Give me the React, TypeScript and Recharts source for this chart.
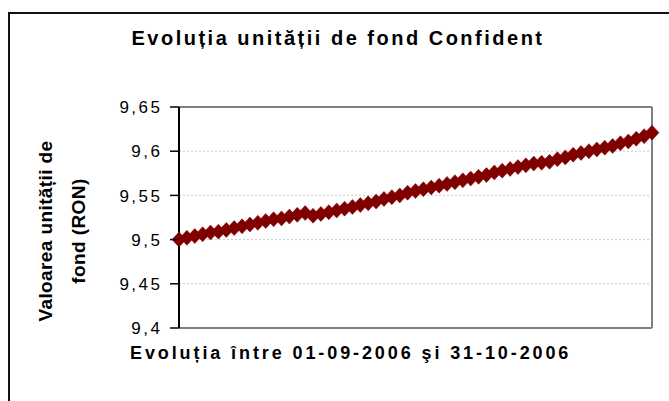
import React from "react";
import { LineChart, Line, XAxis, YAxis, CartesianGrid, ReferenceLine } from "recharts";

// valoarea unitatii de fond, zilnic, 01-09-2006 .. 31-10-2006 (61 zile)
const unitValues = [
  9.5, 9.502, 9.504, 9.506, 9.508, 9.509, 9.511, 9.513, 9.515, 9.517,
  9.519, 9.521, 9.523, 9.524, 9.526, 9.528, 9.53, 9.527, 9.529, 9.531,
  9.533, 9.535, 9.537, 9.539, 9.541, 9.543, 9.546, 9.548, 9.55, 9.553,
  9.555, 9.557, 9.559, 9.561, 9.563, 9.565, 9.567, 9.569, 9.571, 9.573,
  9.576, 9.578, 9.58, 9.582, 9.584, 9.586, 9.587, 9.588, 9.591, 9.593,
  9.596, 9.598, 9.6, 9.602, 9.604, 9.606, 9.609, 9.611, 9.614, 9.617,
  9.621,
];
const yTicks = [9.4, 9.45, 9.5, 9.55, 9.6, 9.65];

const chartData = unitValues.map((v, i) => ({ day: i + 1, value: v }));

const FONT = '"Liberation Sans", Arial, sans-serif';
const RED = "#800000";
const TICK_MARGIN = 10;
const TICK_SIZE = 9;

const Diamond = (props: any) => {
  const { cx, cy, index } = props;
  if (cx == null || cy == null) return <g key={index} />;
  const rx = 7;
  const ry = 7.5;
  return (
    <polygon
      key={index}
      points={`${cx},${cy - ry} ${cx + rx},${cy} ${cx},${cy + ry} ${cx - rx},${cy}`}
      fill={RED}
      stroke={RED}
      strokeWidth={0.5}
    />
  );
};

// eticheta + liniuta de diviziune; x vine chiar pe axa (tickSize/tickMargin = 0)
const YTick = (props: any) => {
  const { x, y, payload } = props;
  const label = String(payload.value).replace(".", ",");
  return (
    <g>
      <line x1={x - TICK_SIZE} x2={x} y1={y} y2={y} stroke="#000" strokeWidth={1.5} />
      <text
        x={x - TICK_SIZE - TICK_MARGIN + 2.5}
        y={y}
        dy="0.36em"
        textAnchor="end"
        fill="#000"
        fontSize={17}
        fontFamily={FONT}
        letterSpacing={2.5}
      >
        {label}
      </text>
    </g>
  );
};

export default function App() {
  return (
    <div
      style={{
        position: "absolute",
        left: 0,
        top: 0,
        width: 669,
        height: 401,
        overflow: "hidden",
        background: "#fff",
        fontFamily: FONT,
      }}
    >
      <div
        style={{
          position: "absolute",
          left: 8,
          top: 12,
          width: 700,
          height: 430,
          border: "2px solid #111",
          boxSizing: "border-box",
        }}
      />
      <div
        style={{
          position: "absolute",
          left: 0,
          top: 27,
          width: 676,
          textAlign: "center",
          fontSize: 20,
          fontWeight: "bold",
          letterSpacing: 2.5,
          color: "#000",
        }}
      >
        Evoluția unității de fond Confident
      </div>
      <div
        style={{
          position: "absolute",
          left: -58,
          top: 198,
          width: 240,
          height: 66,
          lineHeight: "33px",
          transform: "rotate(-90deg)",
          textAlign: "center",
          fontSize: 19,
          fontWeight: "bold",
          letterSpacing: 0.4,
          color: "#000",
        }}
      >
        Valoarea unității de
        <br />
        fond (RON)
      </div>
      <div
        style={{
          position: "absolute",
          left: 130,
          top: 343,
          fontSize: 18,
          fontWeight: "bold",
          letterSpacing: 2.9,
          color: "#000",
          whiteSpace: "nowrap",
        }}
      >
        Evoluția între 01-09-2006 şi 31-10-2006
      </div>
      <div style={{ position: "absolute", left: 0, top: 0 }}>
        <LineChart
          width={669}
          height={401}
          data={chartData}
          margin={{ top: 107, right: 17, bottom: 72, left: 0 }}
        >
          <CartesianGrid
            vertical={false}
            stroke="#c8c8c8"
            strokeDasharray="2 2"
          />
          <XAxis
            dataKey="day"
            type="category"
            height={1}
            tick={false}
            tickLine={false}
            axisLine={{ stroke: "#808080", strokeWidth: 2 }}
          />
          <YAxis
            domain={[9.4, 9.65]}
            ticks={yTicks}
            width={179}
            interval={0}
            tickSize={0}
            tickMargin={0}
            tickLine={false}
            tick={YTick}
            axisLine={{ stroke: "#000", strokeWidth: 2 }}
          />
          <ReferenceLine y={9.65} stroke="#808080" strokeWidth={2} />
          <ReferenceLine x={chartData[chartData.length - 1].day} stroke="#808080" strokeWidth={2} />
          <Line
            type="linear"
            dataKey="value"
            stroke={RED}
            strokeWidth={2}
            dot={Diamond}
            isAnimationActive={false}
          />
        </LineChart>
      </div>
    </div>
  );
}
